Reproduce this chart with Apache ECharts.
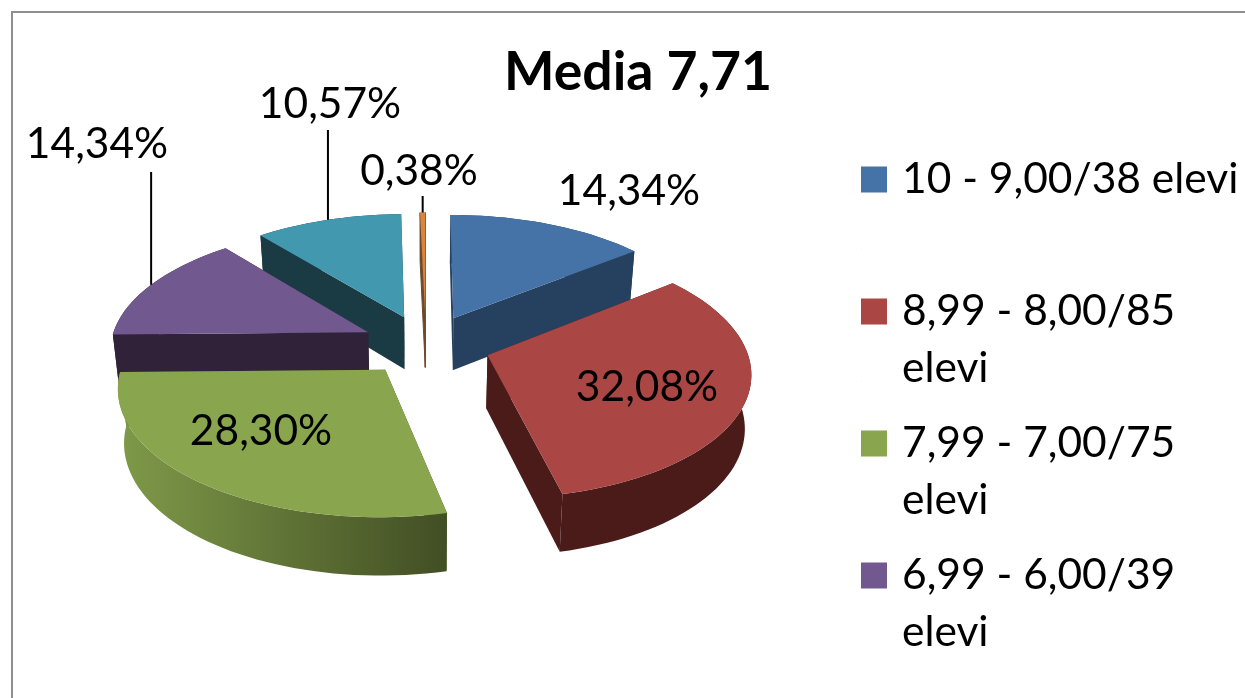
<!DOCTYPE html>
<html>
<head>
<meta charset="utf-8">
<title>Media 7,71</title>
<script src="https://cdn.jsdelivr.net/npm/echarts@6/dist/echarts.min.js"></script>
<style>
  html, body { margin: 0; padding: 0; background: #fff; }
  #main { width: 1245px; height: 698px; }
</style>
</head>
<body>
<div id="main"></div>
<script>
// values, clockwise from 12 o'clock
var categories = ['10 - 9,00/38 elevi', '8,99 - 8,00/85 elevi', '7,99 - 7,00/75 elevi', '6,99 - 6,00/39 elevi', 'gruppo 5', 'gruppo 6'];
var values = [14.34, 32.08, 28.30, 14.34, 10.57, 0.38];
var valueLabels = ['14,34%', '32,08%', '28,30%', '14,34%', '10,57%', '0,38%'];
var titleText = 'Media 7,71';

// styles and layout
var topColors = ['#4572A7', '#AA4643', '#89A54E', '#71588F', '#4198AF', '#DB843D'];
var wallColors = ['#26405F', '#4A1B19', '#454F25', '#2F2239', '#1A3A44', '#6E4A2A'];
var labelPos = [[629, 191], [647, 387], [261, 431], [97, 144], [330, 104], [419, 171]];
var leaderTop = [null, null, null, 172, 130, 196];
var FONT = 'Lato, "Noto Sans", sans-serif';

// perspective disc: centre, x/y radius, foreshortening, explosion, thickness
var CX = 426, CY = 345, RX = 258, RY = 122.4, K = 0.1246, EXPLODE = 0.25, DEPTH = 53;

var total = values.reduce(function (a, b) { return a + b; }, 0);
var startAngles = [];
values.reduce(function (sum, v, i) {
  startAngles[i] = sum / total * 360;
  return sum + v;
}, 0);

function rad(d) { return d * Math.PI / 180; }

// screen position of a disc point; r=0 gives the slice apex
function project(i, deg, r, bottom) {
  var mid = rad(startAngles[i] + values[i] / total * 180);
  var X = EXPLODE * Math.sin(mid) + r * Math.sin(rad(deg));
  var Y = -EXPLODE * Math.cos(mid) - r * Math.cos(rad(deg));
  var s = 1 / (1 - K * Y);
  var x = RX * X * s;
  var y = RY * Y * s;
  if (bottom) {
    x *= 0.98;
    y += DEPTH * Math.pow(s, 0.6);
  }
  return [CX + x, CY + y];
}

function renderSlice(i, api) {
  var sweep = api.value(0) / total * 360;
  var from = startAngles[i];
  var steps = Math.max(2, Math.ceil(sweep / 2));
  var topArc = [], botArc = [];
  for (var s = 0; s <= steps; s++) {
    var a = from + sweep * s / steps;
    topArc.push(project(i, a, 1, false));
    botArc.push(project(i, a, 1, true));
  }
  var apex = project(i, 0, 0, false), apexBot = project(i, 0, 0, true);
  var rimFill = wallColors[i];
  if (i === 2) {
    rimFill = new echarts.graphic.LinearGradient(0, 0, 1, 0, [
      { offset: 0, color: '#7F9A49' },
      { offset: 1, color: '#424E24' }
    ]);
  }
  var thin = i === 5 ? 1 : 0;
  // walls first, the rim goes over them and the top over everything
  var children = [
    { type: 'polygon', shape: { points: [apex, topArc[0], botArc[0], apexBot] },
      style: { fill: wallColors[i], stroke: wallColors[i], lineWidth: thin } },
    { type: 'polygon', shape: { points: [apex, topArc[steps], botArc[steps], apexBot] },
      style: { fill: wallColors[i], stroke: wallColors[i], lineWidth: thin } },
    { type: 'polygon', shape: { points: topArc.concat(botArc.slice().reverse()) }, style: { fill: rimFill } },
    { type: 'polygon', shape: { points: [apex].concat(topArc) }, style: { fill: topColors[i] } }
  ];
  if (leaderTop[i] !== null) {
    var p = project(i, from + sweep / 2, 1, false);
    children.push({
      type: 'line',
      shape: { x1: p[0], y1: leaderTop[i], x2: p[0], y2: p[1] },
      style: { stroke: '#000', lineWidth: 2 }
    });
  }
  children.push({
    type: 'text',
    style: {
      x: labelPos[i][0], y: labelPos[i][1], text: valueLabels[i],
      fill: '#000', font: '42.5px ' + FONT, textAlign: 'center', textVerticalAlign: 'middle'
    }
  });
  return { type: 'group', children: children };
}

var chart = echarts.init(document.getElementById('main'), null, { renderer: 'canvas' });
chart.setOption({
  animation: false,
  color: topColors,
  title: {
    text: titleText,
    left: 633,
    top: 41,
    textAlign: 'center',
    textStyle: { color: '#000', fontFamily: FONT, fontWeight: 'bold', fontSize: 53.5 }
  },
  legend: {
    orient: 'vertical',
    left: 861,
    top: 151,
    padding: 0,
    itemGap: 18,
    itemWidth: 26,
    itemHeight: 83,
    // square on the first text line, speck only stretches the icon box
    icon: 'path://M0 0H26V26H0Z M0 82H0.1V83H0Z',
    selectedMode: false,
    data: categories.slice(0, 4),
    formatter: function (name) {
      if (name === categories[0]) return name + '\n ';
      return name.replace(' elevi', '\nelevi');
    },
    textStyle: { color: '#000', fontFamily: FONT, fontSize: 42.5, lineHeight: 57, padding: [0, 0, 0, 10] }
  },
  graphic: [{
    type: 'rect',
    silent: true,
    shape: { x: 12, y: 12, width: 1400, height: 900 },
    style: { fill: 'none', stroke: '#8F8F8F', lineWidth: 2 }
  }],
  series: categories.map(function (name, i) {
    var mid = rad(startAngles[i] + values[i] / total * 180);
    return {
      type: 'custom',
      name: name,
      coordinateSystem: 'none',
      silent: true,
      z: 10 + Math.round(-Math.cos(mid) * 10),
      data: [[values[i]]],
      renderItem: function (params, api) { return renderSlice(i, api); }
    };
  })
});
</script>
</body>
</html>
